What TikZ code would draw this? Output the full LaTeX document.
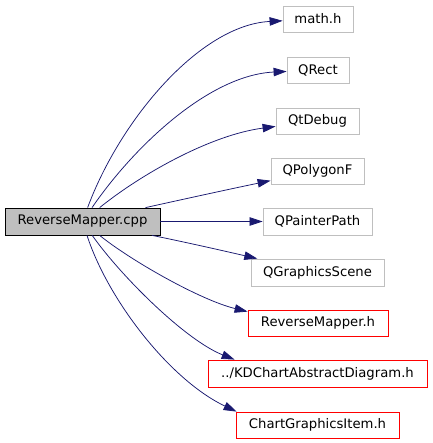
\documentclass[tikz,border=0pt]{standalone}
\usepackage{fontspec}
\setmainfont{DejaVu Sans}
\usetikzlibrary{arrows.meta,calc}
\definecolor{edgeblue}{HTML}{191970}
\definecolor{boxgray}{HTML}{BFBFBF}
\tikzset{
  file/.style={draw=boxgray, line width=0.8pt, inner sep=0pt, font=\fontsize{13.2}{15}\selectfont, text=black},
  srcbox/.style={file, draw=black, fill=boxgray},
  redbox/.style={file, draw=red},
  dep/.style={draw=edgeblue, line width=0.75pt, -{Triangle[length=13pt,width=8.5pt]}, color=edgeblue}
}
\begin{document}
\begin{tikzpicture}[x=1pt,y=-1pt]
\useasboundingbox (0,0) rectangle (432,443);
\node[srcbox, minimum width=155pt, minimum height=27pt] (src) at (82.5,221.5) {ReverseMapper.cpp};
\node[file, minimum width=70pt, minimum height=26pt] (math) at (318,19) {math.h};
\node[file, minimum width=62pt, minimum height=26pt] (qrect) at (318,70) {QRect};
\node[file, minimum width=83pt, minimum height=26pt] (qtdebug) at (317.5,121) {QtDebug};
\node[file, minimum width=93pt, minimum height=26pt] (qpoly) at (317.5,171) {QPolygonF};
\node[file, minimum width=109pt, minimum height=27pt] (qpath) at (317.5,221.5) {QPainterPath};
\node[file, minimum width=133pt, minimum height=27pt] (qscene) at (317.5,272.5) {QGraphicsScene};
\node[redbox, minimum width=140pt, minimum height=26pt] (rmh) at (318,323) {ReverseMapper.h};
\node[redbox, minimum width=219pt, minimum height=27pt] (kd) at (317.5,373.5) {../KDChartAbstractDiagram.h};
\node[redbox, minimum width=163pt, minimum height=26pt] (cgi) at (317.5,425) {ChartGraphicsItem.h};

\draw[dep] (src) .. controls (120,120) and (200,25) .. (math);
\draw[dep] (src) .. controls (135,145) and (210,75) .. (qrect);
\draw[dep] (src) .. controls (140,175) and (210,135) .. (qtdebug);
\draw[dep] (src) .. controls (180,200) and (230,189) .. (qpoly);
\draw[dep] (src) -- (qpath);
\draw[dep] (src) .. controls (180,241) and (220,250) .. (qscene);
\draw[dep] (src) .. controls (130,260) and (200,300) .. ($(rmh.north west)+(0,2)$);
\draw[dep] (src) .. controls (120,275) and (185,340) .. ($(kd.north west)+(27,0)$);
\draw[dep] (src) .. controls (108,300) and (170,380) .. ($(cgi.north west)+(1,0)$);
\end{tikzpicture}
\end{document}
